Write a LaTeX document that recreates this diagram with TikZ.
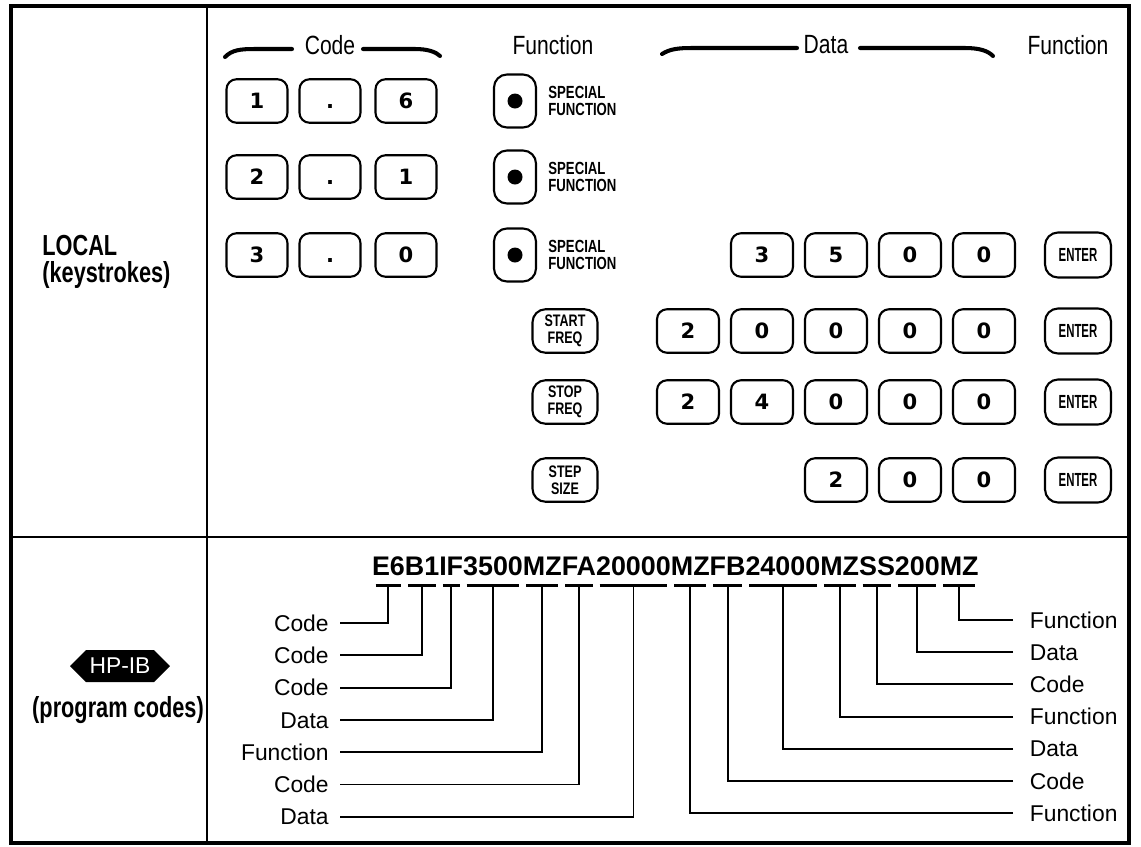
\documentclass[tikz,border=0pt]{standalone}
\usepackage{fontspec}
\setmainfont{Liberation Sans}
\newfontfamily\condfont[FakeStretch=0.75]{Liberation Sans}
\newfontfamily\narrowfont[FakeStretch=0.6]{Liberation Sans}
\newfontfamily\headfont[FakeStretch=0.8]{Liberation Sans}
\newfontfamily\keyfont{DejaVu Sans}
\usetikzlibrary{positioning,shapes.symbols}

\begin{document}
\begin{tikzpicture}[
  x=0.02cm, y=-0.02cm,
  numkey/.style={
    draw, line width=1.2pt, rounded corners=0.2cm, minimum width=1.22cm,
    minimum height=0.87cm, inner sep=0pt, text height=8.9pt, text depth=0pt,
    font=\keyfont\bfseries\fontsize{12}{12}\selectfont,
  },
  sfkey/.style={
    draw, line width=1.2pt, rounded corners=0.26cm, minimum width=0.84cm,
    minimum height=1.06cm, inner sep=0pt,
  },
  fnkey/.style={
    draw, line width=1.2pt, rounded corners=0.26cm, minimum width=1.3cm,
    minimum height=0.87cm, inner sep=0pt, align=center,
    font=\condfont\bfseries\fontsize{9.5}{9.4}\selectfont,
  },
  enterkey/.style={fnkey, minimum width=1.32cm, minimum height=0.9cm,
    font=\narrowfont\bfseries\fontsize{10.8}{10.8}\selectfont},
  sflabel/.style={
    inner sep=0pt, align=left,
    font=\condfont\bfseries\fontsize{10}{10}\selectfont,
  },
  head/.style={inner sep=0pt, font=\headfont\fontsize{15}{15}\selectfont},
  side/.style={inner sep=0pt, font=\condfont\bfseries\fontsize{16.5}{15}\selectfont},
  hpib/.style={
    signal, signal to=west and east, fill=black, text=white,
    minimum width=2cm, minimum height=0.64cm, inner sep=1pt,
    font=\fontsize{13}{13}\selectfont,
  },
  arm/.style={line width=2.3pt, line cap=round},
  grp/.style={
    inner sep=0pt, outer sep=0pt, text height=11pt, text depth=0pt,
    font=\bfseries\fontsize{15.3}{15.3}\selectfont,
  },
  lbl/.style={
    inner ysep=0pt, text height=9.3pt, text depth=0pt,
    font=\fontsize{13}{13}\selectfont,
  },
  conn/.style={line width=1.1pt},
  bar/.style={line width=1.5pt},
]
\useasboundingbox (0,0) rectangle (1141,846);
% frame
\draw[line width=1.8pt] (11,6) rectangle (1129,843);
\draw[line width=1.3pt] (207,6) -- (207,843);
\draw[line width=1.3pt] (11,537) -- (1129,537);
% local keystrokes
\node[side, align=left, anchor=west] (local) at (42,262) {LOCAL\\(keystrokes)};
\node[head] (hcode) at (330,45) {Code};
\node[head] (hfn) at (553,45) {Function};
\node[head] (hdata) at (826,45) {Data};
\node[head] (hfnb) at (1068,45) {Function};
\draw[arm] (225,57) .. controls (232,50) and (240,49) .. (255,49) -- (292,49);
\draw[arm] (363,49) -- (415,49) .. controls (428,49) and (436,52) .. (440,56);
\draw[arm] (662,54) .. controls (670,49) and (678,48) .. (692,48) -- (797,48);
\draw[arm] (860,48) -- (965,48) .. controls (980,48) and (988,51) .. (993,56);
\foreach \r/\y/\a/\b in {1/101/1/6, 2/177/2/1, 3/255/3/0} {
  \node[numkey] (c\r a) at (257,\y) {\a};
  \node[numkey] (c\r b) at (330,\y) {.};
  \node[numkey] (c\r c) at (406,\y) {\b};
  \node[sfkey] (sf\r) at (515,\y) {};
  \fill (sf\r) circle (0.15cm);
  \node[sflabel, right=0.22cm of sf\r] (sfl\r) {SPECIAL\\FUNCTION};
}
\node[fnkey] (start) at (565,331) {START\\FREQ};
\node[fnkey] (stop) at (565,402) {STOP\\FREQ};
\node[fnkey] (stepsize) at (565,480) {STEP\\SIZE};
\foreach \r/\y/\first/\digits in {a/255/2/{3,5,0,0}, b/331/1/{2,0,0,0,0},
    c/402/1/{2,4,0,0,0}, d/480/3/{2,0,0}} {
  \foreach \d [count=\k from \first] in \digits {
    \node[numkey, minimum width=1.24cm] (d\r\k) at ({688+74*(\k-1)},\y) {\d};
  }
  \node[enterkey] (ent\r) at (1078,\y) {ENTER};
}
% program codes
\node[hpib] (hpib) at (120,666) {HP-IB};
\node[side] (prog) at (118,710) {(program codes)};
\node[grp, anchor=west] (g1) at (372,566) {E6};
\foreach \t [count=\k from 2] in {B1,IF,3500,MZ,FA,20000,MZ,FB,24000,MZ,SS,200,MZ} {
  \pgfmathtruncatemacro{\prv}{\k-1}
  \node[grp, right=0pt of g\prv] (g\k) {\t};
}
\foreach \k in {1,...,14} {
  \draw[bar] ([xshift=2pt,yshift=-0.2cm]g\k.south west)
    -- ([xshift=-2pt,yshift=-0.2cm]g\k.south east);
}
\foreach \t [count=\k] in {Code,Code,Code,Data,Function,Code,Data} {
  \node[lbl, inner xsep=0.22cm, anchor=east] (l\k) at (340,{623+32.3*(\k-1)}) {\t};
  \draw[conn] (l\k.east) -| ([yshift=-0.2cm]g\k.south);
}
\foreach \t [count=\k] in {Function,Data,Code,Function,Data,Code,Function} {
  \pgfmathtruncatemacro{\g}{15-\k}
  \node[lbl, inner xsep=0.33cm, anchor=west] (r\k) at (1013,{620+32.2*(\k-1)}) {\t};
  \draw[conn] (r\k.west) -| ([yshift=-0.2cm]g\g.south);
}
\end{tikzpicture}
\end{document}
